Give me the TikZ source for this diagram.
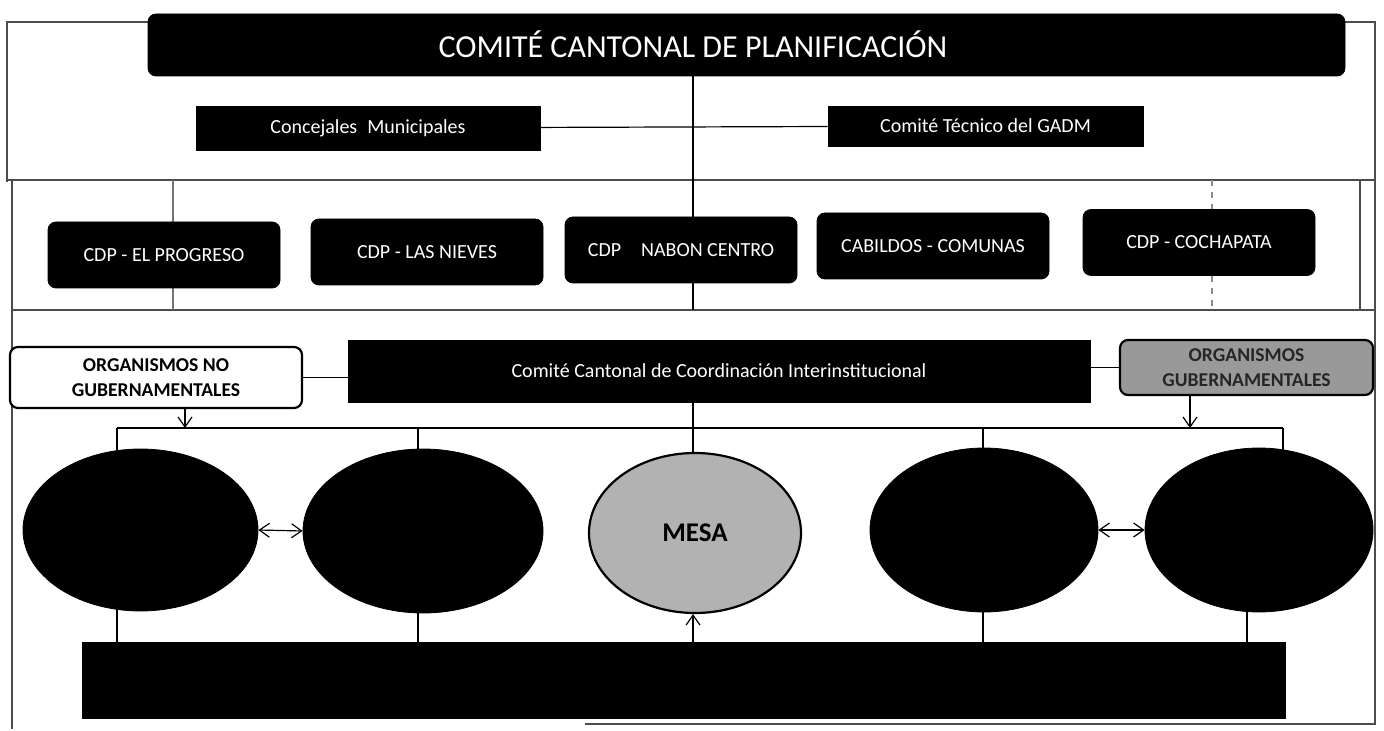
\documentclass[tikz,border=0pt]{standalone}
\usepackage{fontspec}
\setmainfont{Carlito}
\usetikzlibrary{arrows.meta, positioning, backgrounds, shapes.geometric}

\begin{document}
\begin{tikzpicture}[
    x=0.5pt, y=-0.5pt, % one unit is one pixel of the scan
    >={Straight Barb[length=5pt,width=7pt]},
    every node/.style={inner sep=0pt},
    darkbox/.style={draw=black, fill=black, text=white, rounded corners=4pt},
    flatbox/.style={draw=black, fill=black, text=white},
    cdpbox/.style={darkbox, minimum width=116pt, minimum height=33pt, font=\fontsize{10}{12}\selectfont},
    orgbox/.style={draw=black, line width=1.1pt, rounded corners=4pt, align=center, font=\bfseries\fontsize{9.8}{12.5}\selectfont},
    blob/.style={ellipse, draw=black, fill=black},
    link/.style={draw=black, line width=0.6pt},
    frame/.style={draw=black!70, line width=0.6pt},
  ]
  \useasboundingbox (0,0) rectangle (1384,731);

  % planning committee
  \node[darkbox, minimum width=598.5pt, minimum height=31pt] (title) at (746.5,45) {};
  \node[text=white, font=\fontsize{16}{18}\selectfont] (titletext) at (693,44) {COMITÉ CANTONAL DE PLANIFICACIÓN};
  \node[flatbox, minimum width=172pt, minimum height=22pt, font=\fontsize{10}{12}\selectfont] (concejales) at (368,128) {Concejales\enspace Municipales};
  \node[flatbox, minimum width=157.5pt, minimum height=20pt, font=\fontsize{10}{12}\selectfont] (tecnico) at (985.5,126) {Comité Técnico del GADM};

  % parish councils
  \node[cdpbox] (progreso) at (164,255) {CDP - EL PROGRESO};
  \node[cdpbox] (nieves) at (427,252) {CDP - LAS NIEVES};
  \node[cdpbox] (nabon) at (681,250) {CDP\quad NABON CENTRO};
  \node[cdpbox] (cabildos) at (933,246) {CABILDOS - COMUNAS};
  \node[cdpbox] (cochapata) at (1199,242.5) {CDP - COCHAPATA};

  % coordination committee
  \node[orgbox, fill=white, minimum width=146pt, minimum height=30.5pt] (ong) at (156,377.5) {ORGANISMOS NO\\GUBERNAMENTALES};
  \node[flatbox, minimum width=371pt, minimum height=31pt, font=\fontsize{10}{12}\selectfont] (ccci) at (719,371) {Comité Cantonal de Coordinación Interinstitucional};
  \node[orgbox, fill=black!40, text=black!85, minimum width=126.5pt, minimum height=27.5pt] (gub) at (1246.5,367.5) {ORGANISMOS\\GUBERNAMENTALES};

  % working tables
  \node[blob, minimum width=117.5pt, minimum height=81pt] (mesa1) at (140.5,530) {};
  \node[blob, minimum width=120pt, minimum height=82pt] (mesa2) at (423,531) {};
  \node[ellipse, draw=black, line width=1.1pt, fill=black!30, minimum width=106pt, minimum height=80pt, font=\bfseries\fontsize{13.5}{15}\selectfont] (mesa) at (695,533) {MESA};
  \node[blob, minimum width=114pt, minimum height=82pt] (mesa4) at (984,530) {};
  \node[blob, minimum width=114pt, minimum height=82pt] (mesa5) at (1259,530) {};
  \node[flatbox, minimum width=601.5pt, minimum height=38pt] (base) at (683.5,680) {};

  \coordinate (axis) at (693,0);
  \coordinate (busL) at (117,428);
  \coordinate (busR) at (1283,428);
  \coordinate (drop2) at (418,428);
  \coordinate (drop4) at (983,428);
  \coordinate (foot5) at (1247,0);
  \coordinate (sep1) at (0,180);
  \coordinate (sep2) at (0,310);

  \begin{scope}[on background layer]
    % frames
    \draw[frame] (7,182) -- (7,22) -- (1375,22) -- (1375,724) -- (585,724);
    \draw[frame] (7,180) -- (1375,180);
    \draw[frame] (12,180) -- (12,729);
    \draw[frame] (1360,180) -- (1360,310);
    \draw[frame] (12,310) -- (1375,310);
    % bus and drops
    \draw[link] (busL) -- (busR);
    \draw[link] (busL) -- (busL |- mesa1.center);
    \draw[link] (drop2) -- (drop2 |- mesa2.center);
    \draw[link] (drop4) -- (drop4 |- mesa4.center);
    \draw[link] (busR) -- (busR |- mesa5.center);
    \draw[link] (busL |- mesa1.center) -- (busL |- base.north);
    \draw[link] (drop2 |- mesa2.center) -- (drop2 |- base.north);
    \draw[link] (drop4 |- mesa4.center) -- (drop4 |- base.north);
    \draw[link] (foot5 |- mesa5.center) -- (foot5 |- base.north);
    % thin guides in the parish row
    \draw[link, black!55] (173,180) -- (173,310);
    \draw[link, black!45, dashed] (1212,180) -- (1212,310);
  \end{scope}

  \draw[link] (axis |- title.south) -- (axis |- nabon.north);
  \draw[link] (axis |- nabon.south) -- (axis |- sep2);
  \draw[link] (concejales) -- (tecnico);

  \draw[link] (ong.east) -- (ong.east -| ccci.west);
  \draw[link] (gub.west -| ccci.east) -- (gub.west);
  \draw[link, ->] ([xshift=14.5pt]ong.south) -- ([xshift=14.5pt]ong.south |- busL);
  \draw[link, ->] ([xshift=-28.25pt]gub.south) -- ([xshift=-28.25pt]gub.south |- busR);
  \draw[link] (axis |- ccci.south) -- (axis |- mesa.north);
  \draw[link, ->] (axis |- base.north) -- (axis |- mesa.south);

  \draw[link, <->] (mesa1.east) -- (mesa2.west);
  \draw[link, <->] (mesa4.east) -- (mesa5.west);

\end{tikzpicture}
\end{document}
